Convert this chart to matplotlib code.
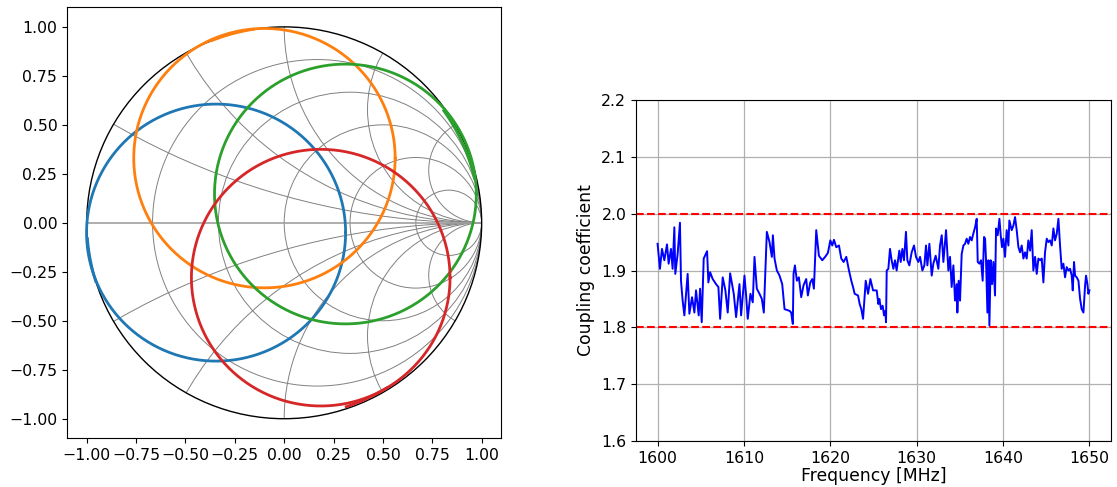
import numpy as np
import matplotlib
matplotlib.use("Agg")
import matplotlib.pyplot as plt
from matplotlib.patches import Circle

plt.rcParams['font.family'] = ['DejaVu Sans']
plt.rcParams['font.size'] = 11.3

# ---------------- Smith chart data ----------------
grid_r = [0.2, 0.5, 1.0, 2.0, 5.0]             # constant-resistance circles
grid_x = [0.27, 0.58, 1.0, 1.73, 3.73]          # constant-reactance arcs (+/-)
smith_ticks = [-1.0, -0.75, -0.5, -0.25, 0.0, 0.25, 0.5, 0.75, 1.0]

trace_colors = ['tab:blue', 'tab:orange', 'tab:green', 'tab:red']
trace_cx = [-0.345, -0.10, 0.31, 0.185]
trace_cy = [-0.05, 0.33, 0.147, -0.28]
trace_rad = [0.656, 0.662, 0.663, 0.655]
rim_start_deg = [184.6, 99.0, 13.3, -71.5]
rim_end_deg = [197.4, 111.7, 35.3, -58.3]
rim_rad = [1.0, 1.0, 0.99, 0.99]

# ---------------- Coupling coefficient data ----------------
freq = [1600.0, 1600.27, 1600.51, 1600.78, 1601.09, 1601.28, 1601.55, 1601.74, 1601.94, 1602.05,
        1602.32, 1602.59, 1602.71, 1602.9, 1603.1, 1603.48, 1603.68, 1603.99, 1604.26, 1604.45,
        1604.76, 1604.92, 1605.11, 1605.34, 1605.73, 1605.88, 1606.08, 1606.38, 1606.77, 1607.04,
        1607.24, 1607.54, 1607.85, 1608.12, 1608.4, 1608.82, 1609.09, 1609.48, 1609.67, 1610.06,
        1610.25, 1610.44, 1610.75, 1611.02, 1611.22, 1611.49, 1611.8, 1612.07, 1612.3, 1612.65,
        1612.96, 1613.23, 1613.35, 1613.54, 1613.81, 1614.12, 1614.43, 1614.7, 1615.28, 1615.47,
        1615.66, 1615.74, 1615.9, 1616.13, 1616.36, 1616.63, 1616.9, 1617.21, 1617.4, 1617.68,
        1617.91, 1618.1, 1618.37, 1618.68, 1619.07, 1619.45, 1619.72, 1620.0, 1620.23, 1620.42,
        1620.69, 1621.0, 1621.27, 1621.54, 1621.85, 1622.16, 1622.43, 1622.63, 1622.82, 1623.21,
        1623.4, 1623.59, 1623.79, 1624.1, 1624.37, 1624.64, 1624.95, 1625.37, 1625.56, 1625.68,
        1625.87, 1626.06, 1626.22, 1626.37, 1626.45, 1626.53, 1626.72, 1626.91, 1627.1, 1627.3,
        1627.49, 1627.68, 1627.99, 1628.15, 1628.34, 1628.53, 1628.76, 1628.92, 1629.15, 1629.42,
        1629.69, 1629.92, 1630.19, 1630.39, 1630.66, 1630.89, 1631.08, 1631.24, 1631.47, 1631.74,
        1631.93, 1632.2, 1632.51, 1632.7, 1632.9, 1633.09, 1633.4, 1633.67, 1633.86, 1634.05,
        1634.25, 1634.44, 1634.63, 1634.71, 1634.86, 1635.02, 1635.21, 1635.41, 1635.6, 1635.79,
        1635.98, 1636.18, 1636.37, 1636.56, 1636.76, 1636.95, 1637.07, 1637.26, 1637.45, 1637.64,
        1637.8, 1637.92, 1638.03, 1638.19, 1638.3, 1638.42, 1638.57, 1638.73, 1638.88, 1639.07,
        1639.19, 1639.38, 1639.58, 1639.73, 1639.88, 1640.04, 1640.23, 1640.42, 1640.62, 1640.73,
        1641.0, 1641.2, 1641.39, 1641.58, 1641.78, 1641.97, 1642.16, 1642.36, 1642.55, 1642.74,
        1642.93, 1643.13, 1643.32, 1643.51, 1643.71, 1643.9, 1644.09, 1644.29, 1644.48, 1644.67,
        1644.86, 1645.06, 1645.25, 1645.44, 1645.64, 1645.83, 1646.02, 1646.22, 1646.41, 1646.6,
        1646.79, 1646.99, 1647.18, 1647.37, 1647.57, 1647.76, 1647.95, 1648.07, 1648.22, 1648.34,
        1648.53, 1648.73, 1648.92, 1649.11, 1649.31, 1649.5, 1649.61, 1649.77, 1649.88, 1650.0]
coupling = [1.947, 1.903, 1.938, 1.918, 1.946, 1.912, 1.938, 1.903, 1.976, 1.894,
            1.929, 1.984, 1.882, 1.847, 1.821, 1.894, 1.824, 1.853, 1.826, 1.865,
            1.821, 1.868, 1.809, 1.921, 1.934, 1.879, 1.897, 1.885, 1.876, 1.871,
            1.815, 1.888, 1.865, 1.826, 1.895, 1.859, 1.818, 1.876, 1.821, 1.891,
            1.856, 1.815, 1.859, 1.844, 1.924, 1.868, 1.859, 1.850, 1.826, 1.968,
            1.950, 1.924, 1.962, 1.921, 1.900, 1.891, 1.876, 1.832, 1.829, 1.826,
            1.806, 1.894, 1.909, 1.882, 1.888, 1.853, 1.874, 1.885, 1.856, 1.879,
            1.885, 1.868, 1.971, 1.926, 1.918, 1.925, 1.931, 1.953, 1.944, 1.954,
            1.941, 1.944, 1.921, 1.915, 1.924, 1.900, 1.882, 1.871, 1.859, 1.856,
            1.841, 1.832, 1.815, 1.882, 1.859, 1.885, 1.865, 1.865, 1.841, 1.850,
            1.832, 1.838, 1.821, 1.829, 1.809, 1.900, 1.903, 1.938, 1.918, 1.903,
            1.918, 1.900, 1.935, 1.915, 1.938, 1.918, 1.968, 1.918, 1.909, 1.932,
            1.944, 1.924, 1.915, 1.924, 1.900, 1.909, 1.944, 1.909, 1.947, 1.891,
            1.912, 1.926, 1.903, 1.944, 1.962, 1.915, 1.971, 1.900, 1.924, 1.871,
            1.909, 1.847, 1.876, 1.826, 1.882, 1.847, 1.929, 1.944, 1.947, 1.956,
            1.947, 1.959, 1.953, 1.965, 1.976, 1.991, 1.915, 1.912, 1.918, 1.882,
            1.959, 1.956, 1.918, 1.826, 1.918, 1.803, 1.918, 1.876, 1.915, 1.856,
            1.974, 1.962, 1.991, 1.962, 1.941, 1.956, 1.924, 1.971, 1.944, 1.988,
            1.971, 1.979, 1.994, 1.971, 1.941, 1.932, 1.944, 1.921, 1.932, 1.921,
            1.953, 1.935, 1.971, 1.900, 1.924, 1.894, 1.921, 1.918, 1.921, 1.879,
            1.932, 1.956, 1.950, 1.953, 1.944, 1.974, 1.953, 1.965, 1.991, 1.944,
            1.903, 1.912, 1.888, 1.906, 1.900, 1.903, 1.891, 1.865, 1.915, 1.891,
            1.888, 1.882, 1.850, 1.832, 1.826, 1.874, 1.891, 1.876, 1.859, 1.865]
limit_lines = [1.8, 2.0]
coup_ticks = [1.6, 1.7, 1.8, 1.9, 2.0, 2.1, 2.2]
freq_ticks = [1600, 1610, 1620, 1630, 1640, 1650]

fig = plt.figure(figsize=(11.17, 4.87), dpi=100)

# ---------------- Left: Smith chart ----------------
ax1 = fig.add_axes([67 / 1117, (487 - 438.3) / 487, 434.4 / 1117, 431 / 487])
clip = Circle((0, 0), 1.0, ec='k', fc='none', lw=1.0, zorder=3)
ax1.add_patch(clip)
for r in grid_r:
    c = Circle((r / (1 + r), 0), 1 / (1 + r), ec='grey', fc='none', lw=0.7, zorder=1)
    ax1.add_patch(c)
    c.set_clip_path(clip)
for x in grid_x:
    for s in (1, -1):
        c = Circle((1, s / x), 1 / x, ec='grey', fc='none', lw=0.7, zorder=1)
        ax1.add_patch(c)
        c.set_clip_path(clip)
hl = ax1.axhline(0, color='#a0a0a0', lw=1.2, zorder=1)
hl.set_clip_path(clip)

t = np.linspace(0, 2 * np.pi, 400)
for col, cx, cy, rr, a0, a1, rim in zip(trace_colors, trace_cx, trace_cy, trace_rad,
                                        rim_start_deg, rim_end_deg, rim_rad):
    ax1.plot(cx + rr * np.cos(t), cy + rr * np.sin(t), color=col, lw=2.0, zorder=4)
    aa = np.radians(np.linspace(a0, a1, 40))
    ax1.plot(rim * np.cos(aa), rim * np.sin(aa), color=col, lw=2.0, zorder=4)

ax1.set_xlim(-1.1, 1.1)
ax1.set_ylim(-1.1, 1.1)
ax1.set_xticks(smith_ticks)
ax1.set_yticks(smith_ticks)
ax1.set_xticklabels([f"{v:.2f}".replace('-', '\u2212') for v in smith_ticks])
ax1.set_yticklabels([f"{v:.2f}".replace('-', '\u2212') for v in smith_ticks])

# ---------------- Right: coupling coefficient ----------------
ax2 = fig.add_axes([636 / 1117, (487 - 441) / 487, 475 / 1117, 341 / 487])
ax2.plot(freq, coupling, color='blue', lw=1.4)
for v in limit_lines:
    ax2.axhline(v, color='red', ls='--', lw=1.5)
ax2.set_xlim(1597.5, 1652.5)
ax2.set_ylim(1.6, 2.2)
ax2.set_yticks(coup_ticks)
ax2.set_xticks(freq_ticks)
ax2.grid(True, color='#b0b0b0', lw=0.9)
ax2.set_axisbelow(True)
ax2.set_xlabel('Frequency [MHz]', fontsize=12.4, labelpad=1)
ax2.set_ylabel('Coupling coefficient', fontsize=12.4)

fig.savefig('out.png', dpi=100)
